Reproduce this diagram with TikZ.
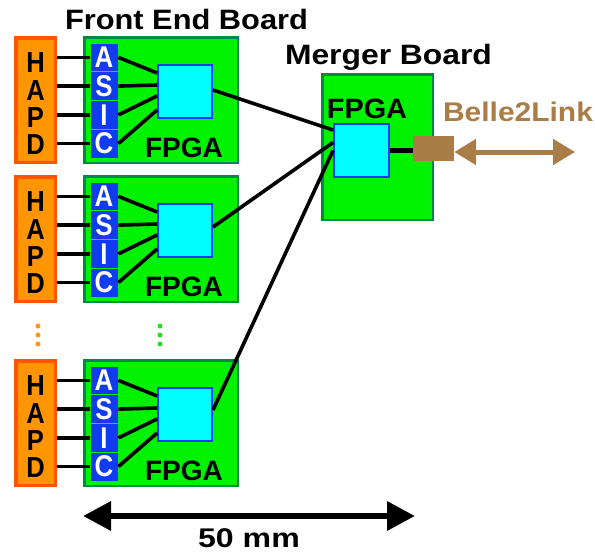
\documentclass[tikz,border=0pt]{standalone}
\usepackage{fontspec}
\setmainfont{Liberation Sans}
\usetikzlibrary{arrows.meta,calc,shadows}
\definecolor{hapdfill}{RGB}{255,149,0}
\definecolor{hapdline}{RGB}{255,85,0}
\definecolor{boardfill}{RGB}{0,242,0}
\definecolor{boardline}{RGB}{0,135,75}
\definecolor{asicblue}{RGB}{15,60,240}
\definecolor{fpgafill}{RGB}{0,255,255}
\definecolor{fpgaline}{RGB}{20,60,255}
\definecolor{linkbrown}{RGB}{170,125,70}
\definecolor{dotgreen}{RGB}{40,220,40}
\definecolor{dotorange}{RGB}{255,150,30}
\newcommand{\fsz}[1]{\fontsize{#1}{#1}\selectfont}
\begin{document}
\begin{tikzpicture}[x=1pt,y=-1pt,
  shad/.style={drop shadow={opacity=0.25,shadow xshift=1.2pt,shadow yshift=-1.5pt}},
  board/.style={draw=boardline,fill=boardfill,line width=2.5pt,minimum width=153.5pt,minimum height=125.5pt,inner sep=0pt,shad},
  hapdbox/.style={draw=hapdline,fill=hapdfill,line width=3.5pt,minimum width=39.5pt,minimum height=124.5pt,inner sep=0pt,shad},
  hapdletter/.style={inner sep=0pt,font=\fsz{29}\bfseries},
  asiccell/.style={draw=boardfill,fill=asicblue,line width=0.8pt,minimum width=28pt,minimum height=28.75pt,inner sep=0pt,text=white,font=\fsz{30}\bfseries},
  fpgabox/.style={draw=fpgaline,fill=fpgafill,line width=2pt,minimum width=54pt,minimum height=53pt,inner sep=0pt},
  lbl/.style={inner sep=0pt,anchor=base,font=\fsz{28}\bfseries},
  wire/.style={draw=black,line width=3.6pt},
  dot/.style={circle,inner sep=0pt,minimum size=5pt}
]
\useasboundingbox (0,0) rectangle (595,554);

% titles
\node[lbl] (tfe) at (186.5,30) {\scalebox{1.1}[1]{Front End Board}};
\node[lbl] (tmb) at (388.5,64) {\scalebox{1.137}[1]{Merger Board}};

% merger board
\node[board,minimum width=110.5pt,minimum height=145.5pt] (mboard) at (377.5,147) {};
\node[lbl] (mfl) at (367,118) {\scalebox{1.03}[1]{FPGA}};
\node[fpgabox,minimum width=55pt] (mfpga) at (361.5,150.5) {};
\coordinate (lboxw) at (413,150);
\draw[line width=5pt] (mfpga.east |- lboxw) -- (lboxw);
\node[fill=linkbrown,minimum width=41pt,minimum height=25pt,inner sep=0pt] (lbox) at (433.5,148.5) {};
\coordinate (linkend) at (575,152);
\draw[draw=linkbrown,line width=5pt,{Triangle[length=22pt,width=25pt]}-{Triangle[length=22pt,width=25pt]}]
  (lbox.east |- linkend) -- (linkend);
\node[lbl,text=linkbrown,font=\fsz{27}\bfseries] (blink) at (518,121) {\scalebox{1.11}[1]{Belle2Link}};

% front end blocks
\foreach \b/\dy in {1/0,2/139,3/323}{
  \node[board] (board\b) at (161,100+\dy) {};
  \node[hapdbox] (hapd\b) at (35.5,100+\dy) {};
  \foreach \k/\l/\yb in {1/H/72,2/A/100,3/P/127,4/D/154}
    \node[hapdletter,anchor=base] (hl\b\k) at (35.5,\yb+\dy) {\scalebox{0.88}[1]{\l}};
  \node[fpgabox] (fpga\b) at (185,91.5+\dy) {};
  \node[lbl] (fl\b) at (184,157+\dy) {FPGA};
  \foreach \k/\l/\yc/\o in {1/A/57.4/-18.5,2/S/86.1/-6.5,3/I/114.9/4.5,4/C/143.6/18.5}{
    \node[asiccell] (asic\b\k) at (104,\yc+\dy) {\scalebox{0.86}[1]{\l}};
    \draw[wire] (hapd\b.east |- asic\b\k) -- (asic\b\k.west);
    \draw[wire] (asic\b\k.east) -- ($(fpga\b.west)+(0,\o)$);
  }
}

% links to merger
\draw[wire] ($(fpga1.east)+(0,-1.5)$) -- ($(mfpga.west)+(0,-20.5)$);
\draw[wire] ($(fpga2.east)+(0,-3.5)$) -- ($(mfpga.west)+(0,-8)$);
\draw[wire] ($(fpga3.east)+(0,-4.5)$) -- ($(mfpga.west)+(0,0)$);

% dots
\foreach \i/\yy in {1/326,2/335,3/344}{
  \node[dot,fill=dotorange] (od\i) at (38,\yy) {};
  \node[dot,fill=dotgreen] (gd\i) at (160,\yy) {};
}

% dimension
\coordinate (dimL) at (83,516);
\coordinate (dimR) at (415,516);
\draw[line width=6.5pt,{Triangle[length=28pt,width=28pt]}-{Triangle[length=28pt,width=28pt]}] (dimL) -- (dimR);
\node[lbl,font=\fsz{27}\bfseries] (dimt) at (249,547) {\scalebox{1.19}[1]{50 mm}};
\end{tikzpicture}
\end{document}
